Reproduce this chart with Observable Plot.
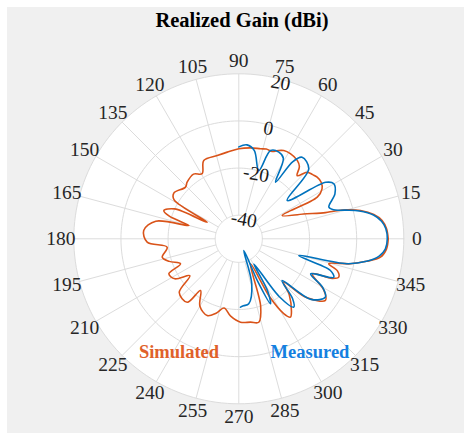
<!DOCTYPE html>
<html><head><meta charset="utf-8">
<script src="https://cdn.jsdelivr.net/npm/d3@7"></script>
<script src="https://cdn.jsdelivr.net/npm/@observablehq/plot@0.6"></script>
<style>
body{margin:0;background:#fff;}
#fig{position:absolute;left:7px;top:7px;width:457px;height:426px;background:#f0f0f0;font-family:"Liberation Serif",serif;color:#000;}
#title{position:absolute;left:0;width:470px;top:0px;height:26px;text-align:center;font-weight:bold;font-size:20.5px;line-height:26px;}
#chart{position:absolute;left:0;top:28px;}
.leg{position:absolute;font-weight:bold;font-size:18.5px;line-height:20px;white-space:nowrap;transform:translateX(-50%);}
svg text{font-family:"Liberation Serif",serif;}
</style></head><body>
<div id="fig"><div id="title">Realized Gain (dBi)</div><div id="chart"></div>
<div class="leg" style="left:172px;top:335px;color:#E0612A">Simulated</div>
<div class="leg" style="left:303px;top:335px;color:#1580E0">Measured</div>
</div>
<script>
// Simulated (orange) pattern, angle in degrees, gain in dBi
const simAngle = [0,4,7.3,10.2,13.1,15,16.2,16.8,21,28.2,28,31,34.5,38.2,41,44.2,47.3,50,53.3,58.8,63,66,69,73,76.4,82.7,90,97.6,104.5,114.1,119.4,125,132.4,135.9,144.9,149,152.3,155,159.3,162,165.1,168,175,182.1,186.7,193.5,198,203.2,206.6,212,217,222,230.9,233.5,240,247.6,253,258,264,271.2,278,283.5,288,295,298,301,303.4,306,312,316,319,324.6,329,334.5,337,339,342,344.5,347.4,350,352.6,356,360];
const simGain  = [13.4,12.8,11.3,8.2,3.0,-2.4,-8,-11.6,-20.6,-29.1,-12.3,-8.8,-7.6,-7.7,-8.5,-9.5,-13.5,-10,-8.5,-7.8,-8.0,-9,-10.3,-10.2,-10.7,-11.1,-11.8,-12.9,-13.5,-13.6,-18.3,-16.5,-17.5,-18.5,-16.3,-18,-34.9,-20,-16,-19,-28.1,-14,-9.5,-11.1,-19.4,-16.6,-19,-23.1,-16.8,-18,-24,-16,-15.3,-22.7,-17,-14.8,-17,-20,-17,-14.6,-14.3,-13.6,-20,-38.3,-22,-13,-10.2,-12,-18,-23.5,-12,-4.9,-8,-15.5,-7,-4.6,-6,-10.4,-1.4,5,10.6,12.8,13.4];
// Measured (blue) pattern, -90..90 deg
const measAngle = [271.4,274,278.7,286,293,294,296,299,301,305,308.8,312,316,320,326,330,334,337,338,341,344.4,347,350,353,356,360,364,367,370,373,375,377,379.4,385,390.1,393,398.4,405,412.2,415,417,421,425.2,430.2,433.7,440,445,450];
const measGain  = [-21,-21.5,-22.1,-30,-44.6,-30,-19.3,-25,-37.6,-20,-12.8,-16,-24.5,-10,-5.7,-9,-16.1,-8,-6.5,-9,-23.6,-3,5,10,12.3,13.0,12.5,11,8,2.5,-3,-8,-9.5,-5,-3.4,-6,-23.8,-8,-6.2,-10,-21.4,-11,-9.5,-10.2,-19.8,-12,-10,-11];
// Axis ticks
const rTicks = [-40, -20, 0, 20];
const thetaTicks = d3.range(0, 360, 15);

const R0 = -50, RMAX = 20, LABEL_R = 25.5;
const rad = a => a * Math.PI / 180;
const px = (a, g) => (g - R0) * Math.cos(rad(a));
const py = (a, g) => (g - R0) * Math.sin(rad(a));

const sim = simAngle.map((a, i) => ({a, g: simGain[i]}));
const meas = measAngle.map((a, i) => ({a, g: measGain[i]}));
const circle = r => d3.range(0, 361, 2).map(a => ({a, g: r}));
const rings = rTicks.flatMap(r => circle(r).map(d => ({...d, ring: r})));
const spokes = thetaTicks.map(a => ({a}));

const ORANGE = "#D95319", BLUE = "#0072BD", GRID = "#dcdcdc";
const FONT = "Liberation Serif";

const plot = Plot.plot({
  width: 457, height: 398,
  marginLeft: 66.3, marginRight: 60.7, marginTop: 38.3, marginBottom: 29.7,
  x: {domain: [R0 - RMAX, RMAX - R0], axis: null},
  y: {domain: [R0 - RMAX, RMAX - R0], axis: null},
  style: {background: "transparent", overflow: "visible"},
  marks: [
    Plot.line(circle(RMAX), {x: d => px(d.a, d.g), y: d => py(d.a, d.g), fill: "white", stroke: "none"}),
    Plot.link(spokes, {x1: d => px(d.a, -40), y1: d => py(d.a, -40), x2: d => px(d.a, RMAX), y2: d => py(d.a, RMAX), stroke: GRID, strokeWidth: 1}),
    Plot.line(rings, {x: d => px(d.a, d.g), y: d => py(d.a, d.g), z: "ring", stroke: GRID, strokeWidth: 1}),
    Plot.line(sim, {x: d => px(d.a, d.g), y: d => py(d.a, d.g), stroke: ORANGE, strokeWidth: 1.6, curve: "catmull-rom"}),
    Plot.line(meas, {x: d => px(d.a, d.g), y: d => py(d.a, d.g), stroke: BLUE, strokeWidth: 1.6, curve: "catmull-rom"}),
    Plot.text(thetaTicks, {x: a => px(a, LABEL_R), y: a => py(a, LABEL_R), text: a => String(a), fontSize: 19.5, fontFamily: FONT, fill: "#262626"}),
    Plot.text(rTicks, {x: r => px(75, r - 1.5), y: r => py(75, r - 1.5), text: r => String(r), fontSize: 19.5, fontFamily: FONT, fill: "#1a1a1a", rotate: 10})
  ]
});
document.getElementById("chart").appendChild(plot);
</script>
</body></html>
